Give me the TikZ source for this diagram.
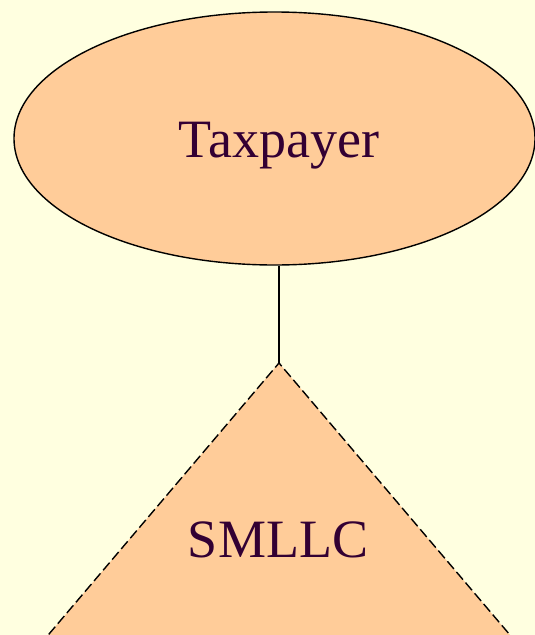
\documentclass[tikz,border=0pt]{standalone}
\usepackage{fontspec}
\setmainfont{Liberation Serif}
\usetikzlibrary{shapes.geometric}
\definecolor{paper}{HTML}{FFFFE0}
\definecolor{peach}{HTML}{FFCC99}
\definecolor{ink}{HTML}{330033}
\begin{document}
\begin{tikzpicture}[x=1pt,y=-1pt,
  entity/.style={ellipse,draw=black,fill=peach,line width=1.4pt,
    minimum width=521pt,minimum height=253pt,inner sep=0pt},
  caption/.style={text=ink,font=\fontsize{54}{62}\selectfont,anchor=base,inner sep=0pt},
  dashededge/.style={draw=black,line width=1.4pt,dash pattern=on 10pt off 4pt},
  link/.style={draw=black,line width=1.4pt}]
  % page and background
  \fill[paper] (0,0) rectangle (535,635);
  \useasboundingbox (0,0) rectangle (535,635);
  \clip (0,0) rectangle (535,635);

  % owner
  \node[entity] (taxpayer) at (274.5,138.5) {};
  \node[caption] (taxpayerlabel) at (279,157) {Taxpayer};

  % disregarded entity (triangle running off the page)
  \coordinate (apex) at (279,363);
  \coordinate (leftfoot) at (39.7,645);
  \coordinate (rightfoot) at (518.5,645);
  \fill[peach] (apex) -- (leftfoot) -- (rightfoot) -- cycle;
  \draw[dashededge] (leftfoot) -- (apex) -- (rightfoot);
  \node[caption] (smllc) at (278,557) {SMLLC};

  % ownership link
  \draw[link] (apex |- taxpayer.south) -- (apex);
\end{tikzpicture}
\end{document}
